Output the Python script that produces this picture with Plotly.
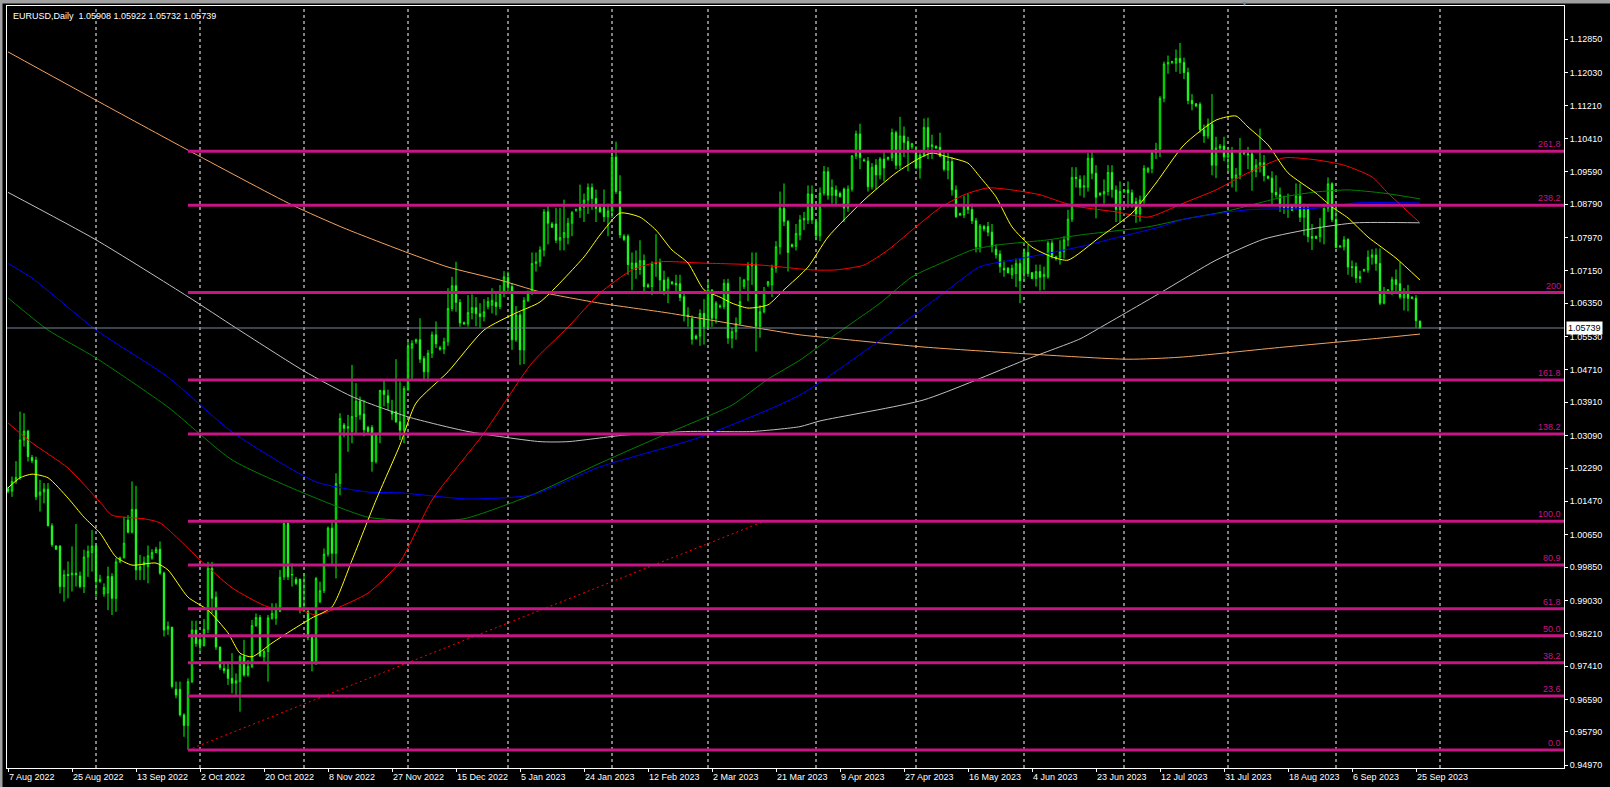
import pandas as pd
import plotly.graph_objects as go

# EURUSD daily, MT4 style chart: one bar per day except Saturday
first_day = "2022-08-07"
last_day = "2023-09-26"
missing_days = ["2022-12-25", "2023-01-01", "2023-06-18"]

opens = [
    1.0178, 1.0172, 1.0196, 1.0206, 1.0298, 1.0320, 1.0255, 1.0249, 1.0162, 1.0170,
    1.0177, 1.0087, 1.0037, 1.0037, 0.9937, 0.9967, 0.9966, 0.9970, 0.9963, 0.9937,
    1.0010, 1.0021, 1.0038, 0.9950, 0.9919, 0.9921, 0.9962, 0.9908, 0.9998, 1.0008,
    1.0101, 1.0071, 1.0127, 0.9978, 0.9991, 0.9986, 1.0007, 1.0021, 1.0029, 0.9970,
    0.9832, 0.9837, 0.9684, 0.9684, 0.9621, 0.9595, 0.9703, 0.9830, 0.9806, 0.9792,
    0.9832, 0.9982, 0.9911, 0.9788, 0.9735, 0.9733, 0.9711, 0.9699, 0.9703, 0.9765,
    0.9719, 0.9740, 0.9841, 0.9861, 0.9764, 0.9777, 0.9859, 0.9859, 0.9876, 0.9961,
    1.0093, 0.9967, 0.9955, 0.9955, 0.9884, 0.9876, 0.9812, 0.9748, 0.9900, 0.9927,
    1.0017, 1.0081, 1.0019, 1.0191, 1.0335, 1.0327, 1.0319, 1.0356, 1.0394, 1.0362,
    1.0329, 1.0329, 1.0245, 1.0311, 1.0420, 1.0407, 1.0368, 1.0368, 1.0343, 1.0322,
    1.0421, 1.0524, 1.0540, 1.0545, 1.0499, 1.0466, 1.0512, 1.0557, 1.0525, 1.0522,
    1.0540, 1.0622, 1.0678, 1.0637, 1.0587, 1.0584, 1.0612, 1.0624, 1.0609, 1.0602,
    1.0627, 1.0630, 1.0637, 1.0627, 1.0660, 1.0699, 1.0676, 1.0545, 1.0606, 1.0520,
    1.0642, 1.0664, 1.0733, 1.0737, 1.0766, 1.0860, 1.0830, 1.0830, 1.0790, 1.0797,
    1.0797, 1.0832, 1.0864, 1.0864, 1.0871, 1.0889, 1.0920, 1.0893, 1.0871, 1.0871,
    1.0848, 1.0862, 1.0995, 1.0910, 1.0800, 1.0800, 1.0720, 1.0734, 1.0718, 1.0740,
    1.0680, 1.0676, 1.0732, 1.0735, 1.0692, 1.0672, 1.0687, 1.0684, 1.0683, 1.0651,
    1.0606, 1.0597, 1.0554, 1.0554, 1.0610, 1.0577, 1.0667, 1.0598, 1.0628, 1.0627,
    1.0684, 1.0549, 1.0565, 1.0585, 1.0676, 1.0692, 1.0727, 1.0731, 1.0578, 1.0614,
    1.0680, 1.0680, 1.0721, 1.0774, 1.0869, 1.0836, 1.0779, 1.0775, 1.0803, 1.0840,
    1.0840, 1.0904, 1.0836, 1.0801, 1.0906, 1.0959, 1.0901, 1.0914, 1.0905, 1.0916,
    1.0869, 1.0916, 1.0998, 1.1052, 1.0988, 1.0985, 1.0922, 1.0975, 1.0951, 1.0990,
    1.0990, 1.0993, 1.1055, 1.0975, 1.1047, 1.1033, 1.1020, 1.1012, 1.0968, 1.1000,
    1.1068, 1.1021, 1.1021, 1.1019, 1.0997, 1.0963, 1.0984, 1.0914, 1.0856, 1.0852,
    1.0875, 1.0866, 1.0838, 1.0774, 1.0824, 1.0824, 1.0810, 1.0768, 1.0756, 1.0721,
    1.0721, 1.0705, 1.0708, 1.0733, 1.0708, 1.0760, 1.0710, 1.0696, 1.0713, 1.0700,
    1.0700, 1.0783, 1.0749, 1.0748, 1.0762, 1.0791, 1.0842, 1.0945, 1.0940, 1.0921,
    1.0921, 1.0992, 1.0955, 1.0906, 1.0904, 1.0910, 1.0957, 1.0914, 1.0866, 1.0910,
    1.0914, 1.0907, 1.0885, 1.0855, 1.0889, 1.0959, 1.0967, 1.1006, 1.1014, 1.1140,
    1.1224, 1.1228, 1.1226, 1.1238, 1.1228, 1.1203, 1.1134, 1.1126, 1.1125, 1.1062,
    1.1047, 1.1076, 1.0975, 1.1017, 1.1022, 1.0995, 1.1009, 1.0943, 1.0951, 1.1003,
    1.1003, 1.1003, 1.0959, 1.0975, 1.0981, 1.0947, 1.0943, 1.0908, 1.0902, 1.0874,
    1.0871, 1.0874, 1.0873, 1.0899, 1.0847, 1.0866, 1.0799, 1.0799, 1.0799, 1.0823,
    1.0869, 1.0929, 1.0841, 1.0776, 1.0774, 1.0792, 1.0725, 1.0725, 1.0700, 1.0715,
    1.0717, 1.0748, 1.0754, 1.0733, 1.0635, 1.0660, 1.0668, 1.0693, 1.0683, 1.0648,
    1.0660, 1.0650, 1.0647, 1.05908,
]
highs = [
    1.0183, 1.0208, 1.0246, 1.0368, 1.0364, 1.0323, 1.0261, 1.0257, 1.0200, 1.0192,
    1.0192, 1.0093, 1.0039, 1.0039, 0.9978, 0.9999, 1.0036, 1.0091, 0.9974, 1.0028,
    1.0038, 1.0076, 1.0040, 0.9966, 0.9945, 0.9986, 0.9970, 1.0007, 1.0011, 1.0109,
    1.0113, 1.0196, 1.0185, 1.0015, 1.0011, 1.0038, 1.0029, 1.0035, 1.0048, 0.9974,
    0.9851, 0.9838, 0.9703, 0.9703, 0.9625, 0.9711, 0.9853, 0.9853, 0.9818, 0.9857,
    0.9998, 0.9998, 0.9925, 0.9789, 0.9752, 0.9752, 0.9773, 0.9723, 0.9769, 0.9806,
    0.9756, 0.9855, 0.9871, 0.9867, 0.9781, 0.9867, 0.9896, 0.9896, 0.9978, 1.0094,
    1.0094, 0.9994, 0.9961, 0.9957, 0.9970, 0.9880, 0.9818, 0.9961, 0.9949, 1.0031,
    1.0085, 1.0097, 1.0216, 1.0364, 1.0340, 1.0360, 1.0483, 1.0438, 1.0405, 1.0397,
    1.0333, 1.0335, 1.0313, 1.0422, 1.0446, 1.0422, 1.0397, 1.0497, 1.0442, 1.0431,
    1.0540, 1.0544, 1.0548, 1.0598, 1.0505, 1.0520, 1.0565, 1.0590, 1.0530, 1.0550,
    1.0672, 1.0700, 1.0737, 1.0645, 1.0590, 1.0655, 1.0657, 1.0650, 1.0635, 1.0645,
    1.0650, 1.0672, 1.0664, 1.0680, 1.0714, 1.0713, 1.0685, 1.0628, 1.0612, 1.0650,
    1.0666, 1.0760, 1.0760, 1.0775, 1.0867, 1.0875, 1.0835, 1.0870, 1.0870, 1.0890,
    1.0845, 1.0862, 1.0868, 1.0927, 1.0905, 1.0930, 1.0930, 1.0915, 1.0875, 1.0915,
    1.0880, 1.1005, 1.1033, 1.0950, 1.0805, 1.0805, 1.0760, 1.0765, 1.0790, 1.0755,
    1.0684, 1.0738, 1.0805, 1.0745, 1.0715, 1.0700, 1.0690, 1.0705, 1.0705, 1.0665,
    1.0625, 1.0605, 1.0558, 1.0620, 1.0645, 1.0690, 1.0670, 1.0640, 1.0632, 1.0694,
    1.0695, 1.0575, 1.0600, 1.0700, 1.0695, 1.0736, 1.0760, 1.0760, 1.0630, 1.0675,
    1.0690, 1.0730, 1.0788, 1.0910, 1.0930, 1.0840, 1.0782, 1.0830, 1.0852, 1.0860,
    1.0925, 1.0925, 1.0840, 1.0920, 1.0973, 1.0970, 1.0940, 1.0925, 1.0910, 1.0920,
    1.0925, 1.1000, 1.1060, 1.1077, 1.0992, 1.0995, 1.0980, 1.0990, 1.0995, 1.1010,
    1.0996, 1.1065, 1.1060, 1.1094, 1.1070, 1.1045, 1.1030, 1.1022, 1.1010, 1.1090,
    1.1092, 1.1050, 1.1024, 1.1055, 1.1010, 1.1005, 1.0995, 1.0925, 1.0858, 1.0900,
    1.0905, 1.0880, 1.0845, 1.0830, 1.0828, 1.0835, 1.0830, 1.0780, 1.0765, 1.0740,
    1.0724, 1.0730, 1.0745, 1.0745, 1.0770, 1.0780, 1.0712, 1.0730, 1.0730, 1.0725,
    1.0788, 1.0790, 1.0752, 1.0790, 1.0800, 1.0865, 1.0970, 1.0970, 1.0950, 1.0950,
    1.1005, 1.1012, 1.0975, 1.0908, 1.0940, 1.0975, 1.0975, 1.0925, 1.0935, 1.0916,
    1.0935, 1.0915, 1.0895, 1.0900, 1.0975, 1.0970, 1.1010, 1.1030, 1.1145, 1.1230,
    1.1245, 1.1232, 1.1260, 1.1276, 1.1240, 1.1215, 1.1150, 1.1128, 1.1130, 1.1075,
    1.1090, 1.1150, 1.1045, 1.1027, 1.1045, 1.1020, 1.1020, 1.0968, 1.1042, 1.1010,
    1.1020, 1.1010, 1.0990, 1.1065, 1.1000, 1.0950, 1.0960, 1.0950, 1.0920, 1.0900,
    1.0905, 1.0877, 1.0930, 1.0930, 1.0880, 1.0875, 1.0830, 1.0802, 1.0845, 1.0880,
    1.0945, 1.0933, 1.0880, 1.0778, 1.0800, 1.0795, 1.0740, 1.0735, 1.0715, 1.0720,
    1.0765, 1.0768, 1.0770, 1.0770, 1.0675, 1.0670, 1.0700, 1.0718, 1.0737, 1.0672,
    1.0680, 1.0652, 1.0655, 1.05922,
]
lows = [
    1.0167, 1.0158, 1.0190, 1.0200, 1.0282, 1.0245, 1.0241, 1.0150, 1.0122, 1.0142,
    1.0085, 1.0035, 1.0027, 0.9920, 0.9900, 0.9908, 0.9925, 0.9937, 0.9933, 0.9921,
    0.9961, 0.9974, 0.9912, 0.9946, 0.9912, 0.9879, 0.9867, 0.9875, 0.9995, 1.0006,
    1.0068, 1.0068, 0.9953, 0.9953, 0.9953, 0.9945, 1.0003, 1.0019, 0.9966, 0.9814,
    0.9818, 0.9686, 0.9662, 0.9617, 0.9567, 0.9535, 0.9699, 0.9789, 0.9777, 0.9789,
    0.9822, 0.9871, 0.9781, 0.9732, 0.9723, 0.9695, 0.9674, 0.9670, 0.9629, 0.9715,
    0.9715, 0.9736, 0.9838, 0.9764, 0.9748, 0.9703, 0.9855, 0.9843, 0.9874, 0.9953,
    0.9953, 0.9937, 0.9941, 0.9871, 0.9876, 0.9805, 0.9728, 0.9744, 0.9896, 0.9921,
    1.0011, 0.9990, 0.9957, 1.0162, 1.0305, 1.0269, 1.0290, 1.0311, 1.0348, 1.0307,
    1.0312, 1.0220, 1.0240, 1.0290, 1.0381, 1.0372, 1.0347, 1.0340, 1.0298, 1.0290,
    1.0420, 1.0445, 1.0535, 1.0488, 1.0445, 1.0442, 1.0500, 1.0525, 1.0518, 1.0510,
    1.0530, 1.0615, 1.0614, 1.0577, 1.0582, 1.0577, 1.0595, 1.0578, 1.0575, 1.0590,
    1.0620, 1.0610, 1.0605, 1.0620, 1.0650, 1.0660, 1.0520, 1.0540, 1.0483, 1.0485,
    1.0638, 1.0655, 1.0713, 1.0725, 1.0750, 1.0780, 1.0820, 1.0783, 1.0765, 1.0765,
    1.0780, 1.0800, 1.0860, 1.0845, 1.0835, 1.0855, 1.0865, 1.0835, 1.0858, 1.0835,
    1.0800, 1.0845, 1.0904, 1.0795, 1.0788, 1.0705, 1.0667, 1.0695, 1.0705, 1.0660,
    1.0672, 1.0655, 1.0700, 1.0665, 1.0655, 1.0635, 1.0680, 1.0660, 1.0640, 1.0590,
    1.0577, 1.0533, 1.0545, 1.0530, 1.0533, 1.0570, 1.0577, 1.0585, 1.0622, 1.0620,
    1.0535, 1.0524, 1.0545, 1.0580, 1.0670, 1.0640, 1.0680, 1.0516, 1.0550, 1.0610,
    1.0675, 1.0650, 1.0710, 1.0755, 1.0825, 1.0713, 1.0772, 1.0765, 1.0790, 1.0815,
    1.0830, 1.0830, 1.0790, 1.0788, 1.0900, 1.0890, 1.0880, 1.0875, 1.0895, 1.0835,
    1.0860, 1.0910, 1.0990, 1.0965, 1.0984, 1.0910, 1.0915, 1.0915, 1.0940, 1.0935,
    1.0986, 1.0985, 1.0965, 1.0965, 1.0995, 1.0960, 1.1015, 1.0965, 1.0942, 1.0995,
    1.0990, 1.0990, 1.1015, 1.0995, 1.0960, 1.0940, 1.0900, 1.0845, 1.0850, 1.0845,
    1.0855, 1.0830, 1.0760, 1.0760, 1.0812, 1.0800, 1.0760, 1.0745, 1.0710, 1.0700,
    1.0708, 1.0695, 1.0675, 1.0635, 1.0690, 1.0700, 1.0694, 1.0676, 1.0666, 1.0668,
    1.0695, 1.0745, 1.0740, 1.0730, 1.0745, 1.0775, 1.0835, 1.0920, 1.0900, 1.0895,
    1.0910, 1.0940, 1.0844, 1.0898, 1.0880, 1.0900, 1.0895, 1.0835, 1.0835, 1.0906,
    1.0870, 1.0870, 1.0833, 1.0836, 1.0880, 1.0955, 1.0955, 1.0990, 1.0995, 1.1130,
    1.1200, 1.1224, 1.1205, 1.1200, 1.1187, 1.1125, 1.1110, 1.1118, 1.1055, 1.1030,
    1.1040, 1.0950, 1.0943, 1.1011, 1.0985, 1.0960, 1.0920, 1.0910, 1.0940, 1.1000,
    1.0965, 1.0912, 1.0945, 1.0957, 1.0935, 1.0940, 1.0875, 1.0895, 1.0860, 1.0855,
    1.0845, 1.0862, 1.0866, 1.0835, 1.0802, 1.0785, 1.0766, 1.0793, 1.0785, 1.0780,
    1.0860, 1.0835, 1.0770, 1.0772, 1.0765, 1.0705, 1.0700, 1.0685, 1.0685, 1.0712,
    1.0710, 1.0730, 1.0715, 1.0630, 1.0632, 1.0658, 1.0655, 1.0660, 1.0645, 1.0617,
    1.0615, 1.0645, 1.0575, 1.05732,
]
closes = [
    1.0172, 1.0196, 1.0206, 1.0298, 1.0320, 1.0257, 1.0247, 1.0158, 1.0170, 1.0177,
    1.0087, 1.0040, 1.0029, 0.9937, 0.9966, 0.9964, 0.9970, 0.9966, 0.9937, 1.0010,
    1.0024, 1.0037, 0.9949, 0.9955, 0.9935, 0.9962, 0.9908, 0.9998, 1.0008, 1.0044,
    1.0071, 1.0127, 0.9978, 0.9986, 0.9997, 1.0013, 1.0021, 1.0029, 0.9970, 0.9830,
    0.9839, 0.9691, 0.9670, 0.9621, 0.9595, 0.9703, 0.9830, 0.9797, 0.9792, 0.9832,
    0.9982, 0.9908, 0.9788, 0.9738, 0.9730, 0.9711, 0.9699, 0.9705, 0.9765, 0.9719,
    0.9740, 0.9841, 0.9861, 0.9766, 0.9777, 0.9860, 0.9871, 0.9885, 0.9960, 1.0093,
    0.9961, 0.9966, 0.9945, 0.9883, 0.9880, 0.9812, 0.9748, 0.9957, 0.9927, 1.0017,
    1.0081, 1.0019, 1.0191, 1.0351, 1.0327, 1.0331, 1.0356, 1.0394, 1.0360, 1.0323,
    1.0319, 1.0245, 1.0311, 1.0420, 1.0410, 1.0390, 1.0362, 1.0343, 1.0322, 1.0425,
    1.0528, 1.0536, 1.0545, 1.0497, 1.0466, 1.0512, 1.0557, 1.0535, 1.0522, 1.0540,
    1.0622, 1.0678, 1.0637, 1.0586, 1.0584, 1.0612, 1.0624, 1.0609, 1.0602, 1.0614,
    1.0639, 1.0642, 1.0627, 1.0660, 1.0700, 1.0676, 1.0545, 1.0606, 1.0520, 1.0642,
    1.0664, 1.0733, 1.0737, 1.0766, 1.0860, 1.0832, 1.0822, 1.0790, 1.0797, 1.0809,
    1.0832, 1.0858, 1.0866, 1.0871, 1.0889, 1.0920, 1.0893, 1.0868, 1.0860, 1.0848,
    1.0862, 1.0995, 1.0910, 1.0803, 1.0792, 1.0730, 1.0734, 1.0718, 1.0740, 1.0676,
    1.0676, 1.0732, 1.0735, 1.0692, 1.0663, 1.0694, 1.0684, 1.0680, 1.0649, 1.0606,
    1.0602, 1.0546, 1.0548, 1.0610, 1.0577, 1.0667, 1.0598, 1.0635, 1.0627, 1.0684,
    1.0549, 1.0565, 1.0585, 1.0639, 1.0692, 1.0727, 1.0732, 1.0578, 1.0614, 1.0664,
    1.0688, 1.0721, 1.0774, 1.0869, 1.0836, 1.0760, 1.0775, 1.0807, 1.0840, 1.0844,
    1.0904, 1.0840, 1.0801, 1.0906, 1.0959, 1.0901, 1.0920, 1.0900, 1.0898, 1.0869,
    1.0916, 1.0998, 1.1052, 1.0994, 1.0986, 1.0922, 1.0970, 1.0951, 1.0990, 1.0968,
    1.0994, 1.1055, 1.0975, 1.1047, 1.1031, 1.1012, 1.1028, 1.0968, 1.1000, 1.1068,
    1.1020, 1.1025, 1.1017, 1.0997, 1.0965, 1.0984, 1.0914, 1.0848, 1.0852, 1.0877,
    1.0866, 1.0838, 1.0774, 1.0825, 1.0818, 1.0810, 1.0775, 1.0754, 1.0725, 1.0717,
    1.0710, 1.0721, 1.0733, 1.0690, 1.0760, 1.0708, 1.0696, 1.0713, 1.0699, 1.0706,
    1.0783, 1.0751, 1.0745, 1.0762, 1.0791, 1.0842, 1.0945, 1.0942, 1.0920, 1.0924,
    1.0992, 1.0955, 1.0896, 1.0902, 1.0910, 1.0957, 1.0915, 1.0866, 1.0910, 1.0914,
    1.0907, 1.0881, 1.0855, 1.0889, 1.0967, 1.0967, 1.1006, 1.1014, 1.1140, 1.1224,
    1.1228, 1.1230, 1.1238, 1.1228, 1.1203, 1.1134, 1.1126, 1.1121, 1.1062, 1.1047,
    1.1076, 1.0975, 1.1017, 1.1022, 1.0995, 1.1005, 1.0943, 1.0951, 1.1008, 1.1008,
    1.1000, 1.0959, 1.0975, 1.0981, 1.0949, 1.0943, 1.0908, 1.0902, 1.0873, 1.0871,
    1.0877, 1.0864, 1.0899, 1.0847, 1.0866, 1.0799, 1.0795, 1.0795, 1.0823, 1.0869,
    1.0929, 1.0841, 1.0772, 1.0774, 1.0791, 1.0724, 1.0723, 1.0697, 1.0696, 1.0718,
    1.0748, 1.0754, 1.0733, 1.0635, 1.0664, 1.0668, 1.0693, 1.0681, 1.0650, 1.0660,
    1.0647, 1.0647, 1.0592, 1.05739,
]

# moving averages as (bar number, price)
ma_yellow_x = [0, 3, 6, 10, 15, 19, 23, 27, 31, 37, 40, 45, 50, 55, 58, 61, 66, 71, 76, 81,
               86, 92, 98, 102, 110, 119, 127, 133, 144, 148, 153, 158, 162, 166, 170, 174,
               178, 181, 185, 190, 194, 200, 205, 214, 222, 228, 231, 235, 240, 243, 247,
               251, 256, 261, 265, 273, 281, 287, 294, 302, 307, 310, 315, 320, 327, 331,
               335, 340, 347, 353]
ma_yellow_y = [1.0180, 1.0205, 1.0214, 1.0205, 1.0155, 1.0108, 1.0069, 1.0010, 0.9990, 0.9995,
               0.9978, 0.9911, 0.9879, 0.9823, 0.9773, 0.9764, 0.9798, 0.9830, 0.9860, 0.9887,
               1.0002, 1.0150, 1.0286, 1.0389, 1.0466, 1.0569, 1.0611, 1.0638, 1.0749, 1.0803,
               1.0857, 1.0847, 1.0815, 1.0766, 1.0734, 1.0668, 1.0650, 1.0635, 1.0623, 1.0631,
               1.0668, 1.0724, 1.0798, 1.0889, 1.0956, 1.0993, 1.1005, 1.0995, 1.0980, 1.0946,
               1.0897, 1.0823, 1.0773, 1.0749, 1.0741, 1.0798, 1.0857, 1.0931, 1.1025, 1.1086,
               1.1096, 1.1069, 1.1025, 1.0956, 1.0906, 1.0872, 1.0845, 1.0798, 1.0746, 1.0692]

ma_red_x = [0, 6, 15, 23, 26, 34, 38, 48, 56, 65, 73, 77, 81, 90, 98, 106, 119, 131, 140, 148,
            156, 163, 173, 188, 201, 207, 214, 220, 226, 233, 239, 245, 251, 258, 264, 268,
            277, 285, 294, 302, 310, 319, 327, 334, 341, 345, 353]
ma_red_y = [1.0340, 1.0291, 1.0229, 1.0145, 1.0113, 1.0104, 1.0094, 1.0003, 0.9934, 0.9887,
            0.9879, 0.9867, 0.9879, 0.9921, 0.9998, 1.0150, 1.0315, 1.0488, 1.0576, 1.0660,
            1.0717, 1.0737, 1.0734, 1.0729, 1.0717, 1.0717, 1.0729, 1.0766, 1.0815, 1.0870,
            1.0902, 1.0919, 1.0914, 1.0902, 1.0882, 1.0872, 1.0860, 1.0847, 1.0882, 1.0914,
            1.0956, 1.0993, 1.0988, 1.0975, 1.0946, 1.0906, 1.0833]

ma_green_x = [0, 10, 22, 40, 56, 74, 90, 103, 114, 131, 148, 165, 181, 190, 198, 205, 218,
              226, 235, 241, 247, 260, 268, 285, 294, 304, 319, 327, 335, 344, 353]
ma_green_y = [1.0648, 1.0569, 1.0500, 1.0379, 1.0249, 1.0167, 1.0108, 1.0099, 1.0104, 1.0163,
              1.0241, 1.0315, 1.0384, 1.0448, 1.0495, 1.0545, 1.0635, 1.0700, 1.0741, 1.0766,
              1.0778, 1.0791, 1.0803, 1.0823, 1.0842, 1.0860, 1.0897, 1.0909, 1.0914, 1.0906,
              1.0892]

ma_blue_x = [0, 6, 22, 40, 56, 77, 90, 98, 115, 131, 148, 173, 198, 218, 226, 235, 243, 251,
             260, 268, 277, 288, 294, 310, 327, 337, 353]
ma_blue_y = [1.0733, 1.0697, 1.0569, 1.0453, 1.0318, 1.0195, 1.0170, 1.0168, 1.0153, 1.0163,
             1.0232, 1.0305, 1.0409, 1.0544, 1.0602, 1.0668, 1.0725, 1.0741, 1.0758, 1.0774,
             1.0796, 1.0823, 1.0842, 1.0865, 1.0869, 1.0882, 1.0882]

ma_silver_x = [0, 22, 45, 57, 74, 86, 100, 115, 133, 140, 154, 170, 186, 198, 203, 229, 255,
               268, 272, 288, 302, 314, 327, 337, 353]
ma_silver_y = [1.0908, 1.0791, 1.0651, 1.0574, 1.0468, 1.0405, 1.0355, 1.0319, 1.0294, 1.0294,
               1.0310, 1.0319, 1.0319, 1.0331, 1.0345, 1.0397, 1.0498, 1.0547, 1.0569, 1.0660,
               1.0741, 1.0793, 1.0820, 1.0833, 1.0833]

ma_orange_x = [0, 22, 45, 71, 84, 100, 110, 123, 133, 148, 165, 186, 198, 206, 229, 255, 280,
               293, 319, 343, 353]
ma_orange_y = [1.1254, 1.1135, 1.1012, 1.0877, 1.0820, 1.0759, 1.0724, 1.0692, 1.0663, 1.0635,
               1.0611, 1.0576, 1.0557, 1.0549, 1.0527, 1.0510, 1.0497, 1.0502, 1.0527, 1.0549,
               1.0559]

# fibonacci retracement drawn from the Sep 2022 low
fib_anchor_x = [45, 189]
fib_anchor_y = [0.95345, 1.00978]
fib_levels = [0.0, 23.6, 38.2, 50.0, 61.8, 80.9, 100.0, 138.2, 161.8, 200.0, 238.2, 261.8]
fib_labels = ["0.0", "23.6", "38.2", "50.0", "61.8", "80.9", "100.0", "138.2", "161.8",
              "200", "238.2", "261.8"]

price_ticks = [1.12850, 1.12030, 1.11210, 1.10410, 1.09590, 1.08790, 1.07970, 1.07150,
               1.06350, 1.05530, 1.04710, 1.03910, 1.03090, 1.02290, 1.01470, 1.00650,
               0.99850, 0.99030, 0.98210, 0.97410, 0.96590, 0.95790, 0.94970]

title_text = "EURUSD,Daily&nbsp;&nbsp;1.05908 1.05922 1.05732 1.05739"

bar_dates = [d for d in pd.date_range(first_day, last_day)
             if d.weekday() != 5 and d.strftime("%Y-%m-%d") not in missing_days]
bars = list(range(len(bar_dates)))

label_idx = bars[::16]
label_text = [f"{d.day} {d.strftime('%b %Y')}" for d in bar_dates[::16]]

# vertical grid at the first bar of every month (+ the projected one past the last bar)
month_grid = [i for i in bars[1:] if bar_dates[i].month != bar_dates[i - 1].month]
month_grid.append(bars[-1] + (pd.Timestamp("2023-10-01") - bar_dates[-1]).days)

FONT = "Liberation Sans"
FS = 9
LIME = "#00FF00"
FIB = "#C71585"
x_range = [-0.25, 389]
y_range = [0.94902, 1.13670]

fig = go.Figure()

fig.add_trace(go.Candlestick(
    x=bars, open=opens, high=highs, low=lows, close=closes,
    increasing=dict(line=dict(color=LIME, width=1), fillcolor="#000000"),
    decreasing=dict(line=dict(color=LIME, width=1), fillcolor="#FFFFFF"),
    whiskerwidth=0, hoverinfo="skip", showlegend=False))

mas = [
    (ma_orange_x, ma_orange_y, "#F4A460"),
    (ma_silver_x, ma_silver_y, "#C0C0C0"),
    (ma_green_x, ma_green_y, "#008000"),
    (ma_blue_x, ma_blue_y, "#0000FF"),
    (ma_red_x, ma_red_y, "#FF0000"),
    (ma_yellow_x, ma_yellow_y, "#FFFF00"),
]
for mx, my, col in mas:
    fig.add_trace(go.Scatter(x=mx, y=my, mode="lines",
                             line=dict(color=col, width=1, shape="spline", smoothing=0.6),
                             hoverinfo="skip", showlegend=False))

# fib base line (dotted red) and level lines
fig.add_trace(go.Scatter(x=fib_anchor_x, y=fib_anchor_y, mode="lines",
                         line=dict(color="#FF0000", width=1, dash="2px,3px"),
                         hoverinfo="skip", showlegend=False))
fib_lo, fib_hi = fib_anchor_y
for lvl, lab in zip(fib_levels, fib_labels):
    p = fib_lo + (fib_hi - fib_lo) * lvl / 100
    fig.add_trace(go.Scatter(x=[fib_anchor_x[0], x_range[1]], y=[p, p], mode="lines",
                             line=dict(color=FIB, width=3), hoverinfo="skip", showlegend=False))
    fig.add_annotation(x=1, xref="paper", y=p, yref="y", text=lab, showarrow=False,
                       xanchor="right", yanchor="bottom", xshift=-1, yshift=0,
                       font=dict(family=FONT, size=FS, color=FIB))

shapes = []
for g in month_grid:
    shapes.append(dict(type="line", xref="x", yref="paper", x0=g, x1=g, y0=0, y1=1,
                       line=dict(color="#FFFFFF", width=1, dash="3px,3px"), layer="below"))
# bid line
shapes.append(dict(type="line", xref="paper", yref="y", x0=0, x1=1,
                   y0=closes[-1], y1=closes[-1], line=dict(color="#778899", width=1)))
# window frame strips
shapes.append(dict(type="rect", xref="paper", yref="paper", x0=-7 / 1557, x1=1 + 46 / 1557,
                   y0=1 + 2.5 / 762, y1=1 + 6 / 762, fillcolor="#A0A0A0", line_width=0,
                   layer="above"))
shapes.append(dict(type="rect", xref="paper", yref="paper", x0=-7 / 1557, x1=-4.5 / 1557,
                   y0=-19 / 762, y1=1 + 6 / 762, fillcolor="#A0A0A0", line_width=0,
                   layer="above"))

fig.add_annotation(x=0, xref="paper", y=1, yref="paper", text=title_text, showarrow=False,
                   xanchor="left", yanchor="top", xshift=4, yshift=-3,
                   font=dict(family=FONT, size=FS, color="#FFFFFF"))
fig.add_annotation(x=1, xref="paper", y=closes[-1], yref="y", text=f"{closes[-1]:.5f}",
                   showarrow=False, xanchor="left", xshift=2, bgcolor="#FFFFFF",
                   borderpad=1, font=dict(family=FONT, size=FS, color="#000000"))
fig.add_annotation(x=(1250 - 7) / 1557, xref="paper", y=1, yref="paper", text="▼",
                   showarrow=False, yanchor="middle", yshift=3,
                   font=dict(size=7, color="#778899"))

fig.update_layout(
    width=1610, height=787,
    margin=dict(l=7, r=46, t=6, b=19),
    paper_bgcolor="#000000", plot_bgcolor="#000000",
    showlegend=False, shapes=shapes, boxgap=0.5,
    font=dict(family=FONT, size=FS, color="#FFFFFF"),
    xaxis=dict(range=x_range, rangeslider=dict(visible=False), showgrid=False,
               zeroline=False, tickvals=label_idx, ticktext=label_text,
               ticks="outside", ticklen=3, tickcolor="#FFFFFF", tickangle=0,
               ticklabelposition="outside right", automargin=False,
               tickfont=dict(family=FONT, size=FS, color="#FFFFFF"),
               showline=True, linecolor="#FFFFFF", linewidth=1, mirror=True),
    yaxis=dict(range=y_range, side="right", showgrid=False, zeroline=False,
               tickvals=price_ticks, ticktext=[f"{v:.5f}" for v in price_ticks],
               ticks="outside", ticklen=3, tickcolor="#FFFFFF", automargin=False,
               tickfont=dict(family=FONT, size=FS, color="#FFFFFF"),
               showline=True, linecolor="#FFFFFF", linewidth=1, mirror=True),
)

# the page body has a default 8px margin; drop it so the chart sits at the window corner
fig.write_html("out.html", config={"displayModeBar": False},
               post_script="document.body.style.margin='0px';document.body.style.background='#000';")
